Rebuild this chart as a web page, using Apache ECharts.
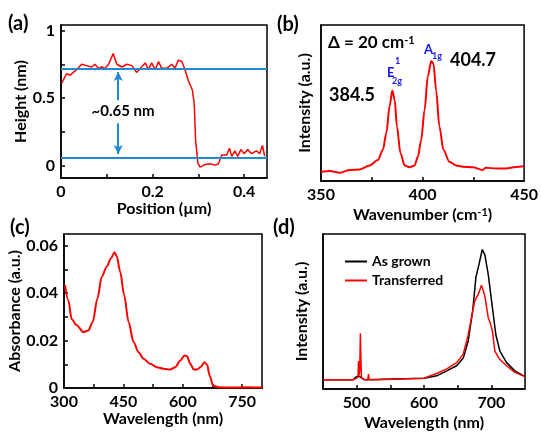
<!DOCTYPE html>
<html>
<head>
<meta charset="utf-8">
<script src="https://cdn.jsdelivr.net/npm/echarts@6.0.0/dist/echarts.min.js"></script>
<style>
html, body { margin: 0; padding: 0; background: #fff; }
#chart { width: 541px; height: 432px; }
</style>
</head>
<body>
<div id="chart"></div>
<script>
// (a) AFM height profile
var afmPos = [0.0015, 0.012, 0.02, 0.034, 0.045, 0.056, 0.067, 0.074, 0.082, 0.089, 0.096, 0.104, 0.114, 0.122, 0.133, 0.144, 0.155, 0.165, 0.176, 0.184, 0.191, 0.198, 0.206, 0.213, 0.220, 0.231, 0.242, 0.249, 0.256, 0.264, 0.271, 0.278, 0.287, 0.291, 0.294, 0.299, 0.304, 0.315, 0.326, 0.337, 0.344, 0.351, 0.362, 0.368, 0.373, 0.380, 0.386, 0.393, 0.400, 0.408, 0.416, 0.427, 0.434, 0.440, 0.445];
var afmHeight = [0.61, 0.68, 0.67, 0.71, 0.75, 0.74, 0.73, 0.75, 0.72, 0.73, 0.72, 0.75, 0.83, 0.75, 0.73, 0.75, 0.74, 0.69, 0.73, 0.76, 0.71, 0.76, 0.71, 0.77, 0.72, 0.72, 0.75, 0.72, 0.78, 0.77, 0.71, 0.63, 0.56, 0.46, 0.19, 0.02, -0.01, 0.01, 0.015, 0.005, 0.015, 0.08, 0.08, 0.13, 0.07, 0.11, 0.07, 0.12, 0.09, 0.12, 0.09, 0.11, 0.09, 0.15, 0.07];
var afmLevels = [0.725, 0.063];   // blue reference lines

// (b) Raman spectrum
var ramanX = [350, 354.4, 359.3, 364.2, 369.1, 374, 378, 380.5, 382.2, 383.8, 385.1, 386.3, 387.4, 389.1, 391.2, 393.6, 396.1, 397.7, 399.3, 401, 402.6, 404.3, 405.4, 406.7, 408.3, 410.3, 413.2, 416.5, 419.8, 424.7, 429.6, 431.2, 436.1, 441, 445.9, 450];
var ramanY = [0.06, 0.064, 0.053, 0.07, 0.074, 0.10, 0.135, 0.2, 0.31, 0.48, 0.58, 0.52, 0.35, 0.18, 0.10, 0.088, 0.10, 0.155, 0.26, 0.455, 0.67, 0.77, 0.75, 0.58, 0.35, 0.2, 0.124, 0.10, 0.092, 0.088, 0.07, 0.085, 0.08, 0.08, 0.09, 0.095];

// (c) absorbance
var absX = [302.5, 311, 319.4, 332, 349, 361.6, 372.6, 384.4, 395.4, 408, 419, 427.5, 433.4, 441.8, 452, 463, 475.6, 488.3, 501, 517.8, 534.7, 551.6, 568.5, 581, 593.8, 604, 610.7, 619, 627.6, 636, 644.5, 654.6, 661.4, 668, 676.6, 691, 720, 760, 800];
var absY = [0.0434, 0.037, 0.029, 0.0265, 0.0236, 0.0243, 0.0279, 0.0378, 0.047, 0.0512, 0.0548, 0.0573, 0.0555, 0.0491, 0.0392, 0.0279, 0.0194, 0.0151, 0.0123, 0.0102, 0.0088, 0.0081, 0.0078, 0.0088, 0.0116, 0.0137, 0.0134, 0.0102, 0.0078, 0.0078, 0.0088, 0.0109, 0.0098, 0.0052, 0.001, 0.0003, 0.0002, 0.0003, 0.0002];

// (d) PL spectra
var grownX = [450, 495, 497.9, 502.8, 507.8, 512, 600, 618.9, 633.7, 648.5, 658.3, 665.7, 672.2, 677.1, 682, 686.5, 690.4, 695.4, 700.3, 706.7, 712.7, 722.6, 734.9, 750];
var grownY = [0.06, 0.06, 0.075, 0.085, 0.07, 0.06, 0.07, 0.085, 0.117, 0.15, 0.2, 0.31, 0.5, 0.72, 0.81, 0.90, 0.865, 0.74, 0.57, 0.35, 0.245, 0.17, 0.117, 0.08];
var transX = [450, 495, 497.9, 502, 502.8, 503.6, 504.6, 505.5, 506.3, 507.1, 507.8, 510, 516.5, 517.6, 518.7, 530, 600, 618.9, 633.7, 648.5, 658.3, 665.7, 672.2, 675.6, 680.5, 685.4, 690.4, 695.4, 698.8, 701.7, 705.2, 712.7, 722.6, 734.9, 750];
var transY = [0.06, 0.06, 0.07, 0.075, 0.18, 0.09, 0.12, 0.36, 0.2, 0.075, 0.07, 0.062, 0.06, 0.096, 0.06, 0.06, 0.07, 0.10, 0.13, 0.17, 0.225, 0.35, 0.5, 0.57, 0.61, 0.67, 0.60, 0.46, 0.42, 0.37, 0.245, 0.19, 0.15, 0.107, 0.08];
var plNames = ['As grown', 'Transferred'];

var FONT = 'Lato, "Open Sans", sans-serif';
var BLUE = '#1e8bd2';

function pairs(xs, ys) {
    return xs.map(function (x, i) { return [x, ys[i]]; });
}

function boldText(size, color) {
    return { fontFamily: FONT, fontWeight: 'bold', fontSize: size, color: color || '#000' };
}

// value axis with inner ticks at fixed values
function makeAxis(gridIndex, min, max, labelVals, tickVals, name, nameGap) {
    var nameStyle = boldText(16);
    nameStyle.rich = { sup: { fontFamily: FONT, fontWeight: 'bold', fontSize: 11, verticalAlign: 'top', color: '#000' } };
    return {
        type: 'value',
        gridIndex: gridIndex,
        min: min,
        max: max,
        name: name,
        nameLocation: 'middle',
        nameGap: nameGap,
        nameTextStyle: nameStyle,
        axisLine: { show: true, onZero: false, lineStyle: { color: '#000', width: 1.5 } },
        axisTick: {
            show: tickVals.length > 0, inside: true, length: 4,
            customValues: tickVals, lineStyle: { color: '#000', width: 1.5 }
        },
        axisLabel: Object.assign({ show: labelVals.length > 0, customValues: labelVals, margin: 6 }, boldText(16)),
        splitLine: { show: false }
    };
}

function label(text, x, y, size, color) {
    return {
        type: 'text', x: x, y: y, silent: true,
        style: {
            text: text, fill: color || '#000', font: 'bold ' + size + 'px ' + FONT,
            textAlign: 'left', textVerticalAlign: 'middle'
        }
    };
}

function grid(left, top, w, h) {
    return { left: left, top: top, width: w, height: h, show: true, borderColor: '#000', borderWidth: 1.5, backgroundColor: 'transparent' };
}

var chart = echarts.init(document.getElementById('chart'), null, { renderer: 'canvas' });

var deltaText = {
    type: 'text', x: 328, y: 43, silent: true,
    style: {
        text: '{n|Δ = 20 cm}{s|-1}', textVerticalAlign: 'middle',
        rich: {
            n: { fontFamily: FONT, fontWeight: 'bold', fontSize: 17, fill: '#000' },
            s: { fontFamily: FONT, fontWeight: 'bold', fontSize: 11, fill: '#000', verticalAlign: 'top' }
        }
    }
};

var option = {
    animation: false,
    backgroundColor: '#fff',
    grid: [
        grid(61, 25, 206, 153),
        grid(321, 25, 204, 156),
        grid(64, 234, 198, 154),
        grid(323, 234, 202, 156)
    ],
    xAxis: [
        makeAxis(0, 0, 0.45, [0, 0.2, 0.4], [0.1, 0.2, 0.3, 0.4], 'Position (µm)', 21),
        makeAxis(1, 350, 450, [350, 400, 450], [375, 400, 425], 'Wavenumber (cm{sup|-1})', 26),
        makeAxis(2, 300, 800, [300, 450, 600, 750], [375, 450, 525, 600, 675, 750], 'Wavelength (nm)', 21),
        makeAxis(3, 450, 750, [500, 600, 700], [500, 550, 600, 650, 700], 'Wavelength (nm)', 26)
    ],
    yAxis: [
        makeAxis(0, -0.09, 1.04, [0, 0.5, 1], [0, 0.25, 0.5, 0.75, 1], 'Height (nm)', 29),
        makeAxis(1, 0, 1, [], [], 'Intensity (a.u.)', 8),
        makeAxis(2, 0, 0.065, [0, 0.02, 0.04, 0.06], [0.01, 0.02, 0.03, 0.04, 0.05, 0.06], 'Absorbance (a.u.)', 36),
        makeAxis(3, 0, 1, [], [], 'Intensity (a.u.)', 13)
    ],
    legend: {
        data: plNames,
        orient: 'vertical',
        left: 345, top: 252,
        padding: 0,
        icon: 'rect',
        itemWidth: 22, itemHeight: 2, itemGap: 0,
        textStyle: Object.assign({ lineHeight: 19 }, boldText(14)),
        selectedMode: false
    },
    series: [
        {
            type: 'line', xAxisIndex: 0, yAxisIndex: 0, symbol: 'none',
            data: pairs(afmPos, afmHeight),
            lineStyle: { color: '#ff0000', width: 1.5 },
            markLine: {
                silent: true, symbol: ['none', 'none'], animation: false,
                label: { show: false },
                lineStyle: { color: BLUE, width: 2, type: 'solid' },
                data: [
                    { yAxis: afmLevels[0] },
                    { yAxis: afmLevels[1] },
                    [{ coord: [0.125, 0.693], symbol: 'arrow', symbolSize: [7, 9] }, { coord: [0.125, 0.485], symbol: 'none' }],
                    [{ coord: [0.125, 0.314], symbol: 'none' }, { coord: [0.125, 0.088], symbol: 'arrow', symbolSize: [7, 9] }]
                ]
            }
        },
        {
            type: 'line', xAxisIndex: 1, yAxisIndex: 1, symbol: 'none', smooth: 0.3, smoothMonotone: 'x',
            data: pairs(ramanX, ramanY),
            lineStyle: { color: '#ff0000', width: 2 }
        },
        {
            type: 'line', xAxisIndex: 2, yAxisIndex: 2, symbol: 'none', smooth: 0.3, smoothMonotone: 'x',
            data: pairs(absX, absY),
            lineStyle: { color: '#ff0000', width: 2 }
        },
        {
            name: plNames[0], type: 'line', xAxisIndex: 3, yAxisIndex: 3, symbol: 'none',
            data: pairs(grownX, grownY),
            itemStyle: { color: '#000' },
            lineStyle: { color: '#000', width: 1.5 }
        },
        {
            name: plNames[1], type: 'line', xAxisIndex: 3, yAxisIndex: 3, symbol: 'none',
            data: pairs(transX, transY),
            itemStyle: { color: '#ff0000' },
            lineStyle: { color: '#ff0000', width: 1.5 }
        }
    ],
    graphic: [
        label('(a)', 8, 24, 20),
        label('(b)', 277, 25, 20),
        label('(c)', 10, 228, 20),
        label('(d)', 273, 228, 20),
        // (a) step height
        { type: 'text', x: 123, y: 111, silent: true,
          style: { text: '~0.65 nm', fill: '#000', font: 'bold 15px ' + FONT, textAlign: 'center', textVerticalAlign: 'middle' } },
        // (b) annotations
        deltaText,
        label('384.5', 329, 95, 18),
        label('404.7', 450, 60, 18),
        label('E', 387, 73, 13, '#1515f0'),
        label('1', 395, 61, 9, '#1515f0'),
        label('2g', 392, 81, 9, '#1515f0'),
        label('A', 424, 50, 13, '#1515f0'),
        label('1g', 432, 56, 9, '#1515f0')
    ]
};

chart.setOption(option);
</script>
</body>
</html>
